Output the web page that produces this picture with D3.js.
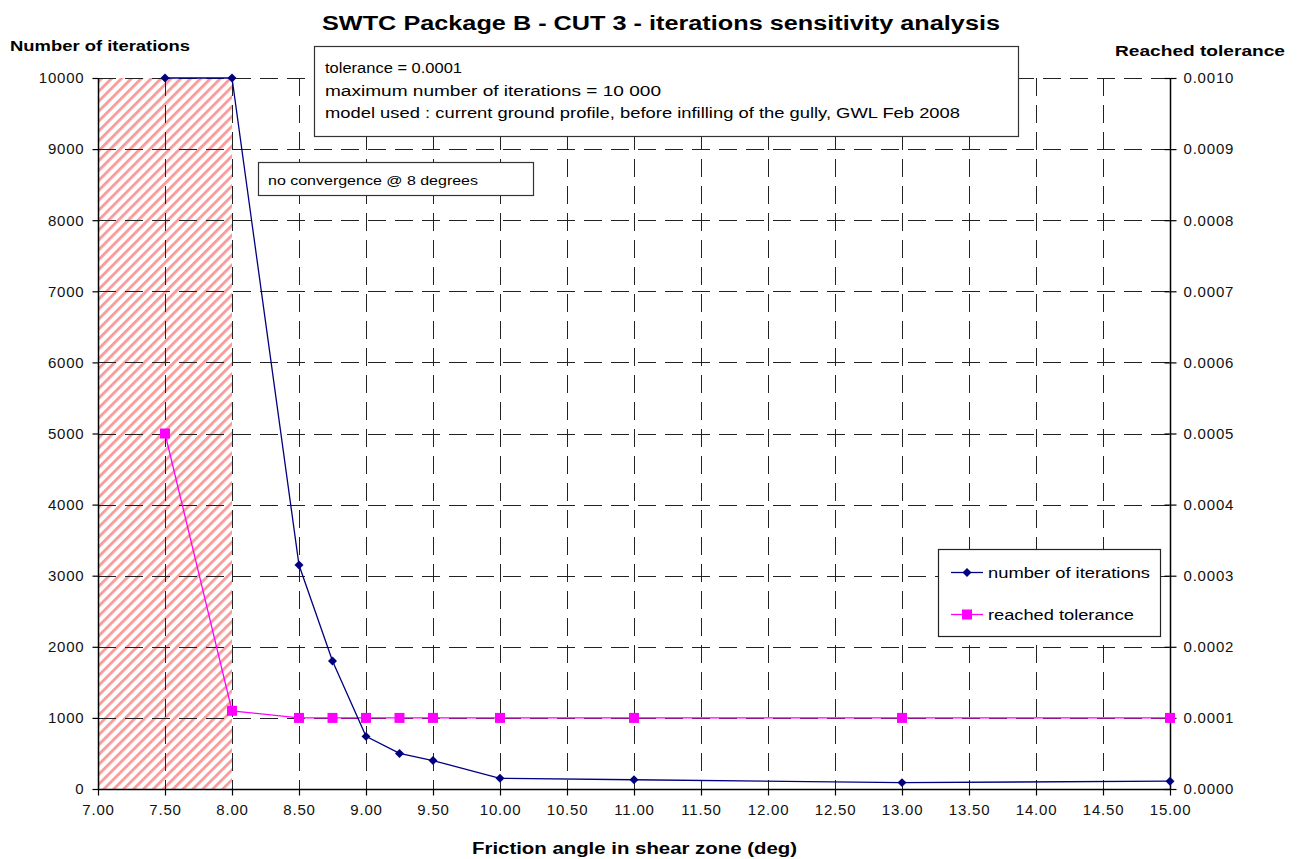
<!DOCTYPE html>
<html><head><meta charset="utf-8">
<script src="https://cdn.jsdelivr.net/npm/d3@7"></script>
<style>body{margin:0;background:#fff}svg{display:block}text{font-family:Arial,"Liberation Sans",sans-serif}</style>
</head><body><svg id="c" width="1299" height="859"></svg>
<script>
const friction = [7.5, 8, 8.5, 8.75, 9, 9.25, 9.5, 10, 11, 13, 15];
const iterations = [10000, 10000, 3150, 1800, 740, 500, 400, 150, 130, 90, 110];
const tolerance = [0.0005, 0.00011, 0.0001, 0.0001, 0.0001, 0.0001, 0.0001, 0.0001, 0.0001, 0.0001, 0.0001];
const xTicks = d3.range(7, 15.001, 0.5);
const yTicks = d3.range(0, 10001, 1000);
const y2Ticks = d3.range(0, 0.00101, 0.0001);
const noConvergence = [7, 8];
const infoLines = ["tolerance = 0.0001", "maximum number of iterations = 10 000", "model used : current ground profile, before infilling of the gully, GWL Feb 2008"];

const svg = d3.select("#c");
const L = 98, R = 1170, T = 78, B = 789;
const x = d3.scaleLinear().domain([7, 15]).range([L, R]);
const y = d3.scaleLinear().domain([0, 10000]).range([B, T]);
const y2 = d3.scaleLinear().domain([0, 0.001]).range([B, T]);

const defs = svg.append("defs");
const pat = defs.append("pattern").attr("id", "hatch").attr("patternUnits", "userSpaceOnUse")
  .attr("width", 7).attr("height", 7).attr("patternTransform", "rotate(45)");
pat.append("rect").attr("x", 0).attr("y", 0).attr("width", 2.8).attr("height", 7).attr("fill", "#f89a9a");

// hatched area
svg.append("rect").attr("x", x(noConvergence[0])).attr("y", T)
  .attr("width", x(noConvergence[1]) - x(noConvergence[0])).attr("height", B - T)
  .attr("fill", "url(#hatch)");

// grid
const grid = svg.append("g").attr("stroke", "#222").attr("stroke-width", 1).attr("stroke-dasharray", "18,9");
grid.selectAll(".hg").data(yTicks.filter(d => d > 0)).join("line")
  .attr("x1", L).attr("x2", R).attr("y1", d => Math.round(y(d)) + 0.5).attr("y2", d => Math.round(y(d)) + 0.5);
grid.selectAll(".vg").data(xTicks.filter(d => d > 7 && d < 15)).join("line")
  .attr("y1", T).attr("y2", B).attr("x1", d => Math.round(x(d)) + 0.5).attr("x2", d => Math.round(x(d)) + 0.5);

// axes
const fs = "15px";
const gl = svg.append("g").attr("transform", `translate(${L + 0.5},0)`)
  .call(d3.axisLeft(y).tickValues(yTicks).tickFormat(d3.format("d")).tickSize(6).tickPadding(8));
const gr = svg.append("g").attr("transform", `translate(${R + 0.5},0)`)
  .call(d3.axisRight(y2).tickValues(y2Ticks).tickFormat(d3.format(".4f")).tickSize(6).tickPadding(7));
const gb = svg.append("g").attr("transform", `translate(0,${B + 0.5})`)
  .call(d3.axisBottom(x).tickValues(xTicks).tickFormat(d3.format(".2f")).tickSize(6).tickPadding(9));
[gl, gr, gb].forEach(g => {
  g.select(".domain").attr("stroke", "#000").attr("stroke-width", 1.5);
  g.selectAll(".tick line").attr("stroke", "#000").attr("stroke-width", 1.2);
  g.selectAll("text").attr("fill", "#111").style("font-size", fs).style("letter-spacing", "0.8px");
});
gl.selectAll(".domain").attr("d", `M0,${T}V${B}`);
gr.selectAll(".domain").attr("d", `M0,${T}V${B}`);
gr.selectAll(".tick line").attr("x1", -6);
gb.selectAll(".domain").attr("d", `M${L},0H${R}`);

// lines
svg.append("path").datum(friction.map((f, i) => [f, tolerance[i]]))
  .attr("fill", "none").attr("stroke", "#ff00ff").attr("stroke-width", 1.3)
  .attr("d", d3.line().x(d => x(d[0])).y(d => y2(d[1])));
svg.append("path").datum(friction.map((f, i) => [f, iterations[i]]))
  .attr("fill", "none").attr("stroke", "#000080").attr("stroke-width", 1.3)
  .attr("d", d3.line().x(d => x(d[0])).y(d => y(d[1])));

const sq = d3.symbol().type(d3.symbolSquare).size(100);
const dm = d3.symbol().type(d3.symbolSquare).size(40);
svg.append("g").selectAll("path").data(friction.map((f, i) => [f, tolerance[i]])).join("path")
  .attr("d", sq).attr("fill", "#ff00ff").attr("transform", d => `translate(${x(d[0])},${y2(d[1])})`);
svg.append("g").selectAll("path").data(friction.map((f, i) => [f, iterations[i]])).join("path")
  .attr("d", dm).attr("fill", "#000080").attr("transform", d => `translate(${x(d[0])},${y(d[1])}) rotate(45)`);

// titles
svg.append("text").attr("x", 322).attr("y", 30).attr("font-weight", "bold").attr("font-size", 20)
  .attr("textLength", 678).attr("lengthAdjust", "spacingAndGlyphs").text("SWTC Package B - CUT 3 - iterations sensitivity analysis");
svg.append("text").attr("x", 10).attr("y", 51).attr("font-weight", "bold").attr("font-size", 15)
  .attr("textLength", 180).attr("lengthAdjust", "spacingAndGlyphs").text("Number of iterations");
svg.append("text").attr("x", 1115).attr("y", 56).attr("font-weight", "bold").attr("font-size", 15)
  .attr("textLength", 170).attr("lengthAdjust", "spacingAndGlyphs").text("Reached tolerance");
svg.append("text").attr("x", 472).attr("y", 854).attr("font-weight", "bold").attr("font-size", 16)
  .attr("textLength", 325).attr("lengthAdjust", "spacingAndGlyphs").text("Friction angle in shear zone (deg)");

// info box
svg.append("rect").attr("x", 314.5).attr("y", 46.5).attr("width", 704).attr("height", 90)
  .attr("fill", "#fff").attr("stroke", "#333").attr("stroke-width", 1.2);
const infoLen = [137, 336, 635];
svg.append("g").selectAll("text").data(infoLines).join("text")
  .attr("x", 325).attr("y", (d, i) => 73 + i * 22.5).attr("font-size", 15.5).attr("fill", "#000")
  .attr("textLength", (d, i) => infoLen[i]).attr("lengthAdjust", "spacingAndGlyphs").text(d => d);

// no convergence box
svg.append("rect").attr("x", 258.5).attr("y", 162.5).attr("width", 275).attr("height", 33)
  .attr("fill", "#fff").attr("stroke", "#333").attr("stroke-width", 1.2);
svg.append("text").attr("x", 268).attr("y", 185).attr("font-size", 13.5).attr("fill", "#000")
  .attr("textLength", 210).attr("lengthAdjust", "spacingAndGlyphs").text("no convergence @ 8 degrees");

// legend
const lg = svg.append("g");
lg.append("rect").attr("x", 938.5).attr("y", 549.5).attr("width", 222).attr("height", 87)
  .attr("fill", "#fff").attr("stroke", "#222").attr("stroke-width", 1.2);
lg.append("line").attr("x1", 951).attr("x2", 983).attr("y1", 572.5).attr("y2", 572.5).attr("stroke", "#000080").attr("stroke-width", 1.3);
lg.append("path").attr("d", dm).attr("fill", "#000080").attr("transform", "translate(967,572.5) rotate(45)");
lg.append("line").attr("x1", 951).attr("x2", 983).attr("y1", 614.5).attr("y2", 614.5).attr("stroke", "#ff00ff").attr("stroke-width", 1.3);
lg.append("path").attr("d", sq).attr("fill", "#ff00ff").attr("transform", "translate(967,614.5)");
lg.append("text").attr("x", 988).attr("y", 578).attr("font-size", 15.5).attr("fill", "#000")
  .attr("textLength", 162).attr("lengthAdjust", "spacingAndGlyphs").text("number of iterations");
lg.append("text").attr("x", 988).attr("y", 620).attr("font-size", 15.5).attr("fill", "#000")
  .attr("textLength", 146).attr("lengthAdjust", "spacingAndGlyphs").text("reached tolerance");
</script></body></html>
